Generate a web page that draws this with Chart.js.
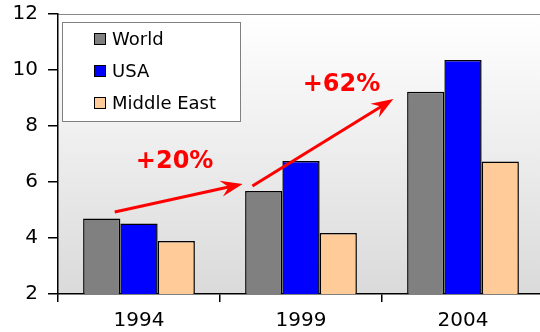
<!DOCTYPE html>
<html>
<head>
<meta charset="utf-8">
<script src="https://cdn.jsdelivr.net/npm/chart.js@4/dist/chart.umd.min.js"></script>
<style>
  html, body { margin: 0; padding: 0; background: #fff; overflow: hidden; }
  #wrap { width: 544px; height: 332px; }
</style>
</head>
<body>
<div id="wrap"><canvas id="chart"></canvas></div>
<script>
// Chart data
const years = ['1994', '1999', '2004'];
const world = [4.70, 5.68, 9.22];
const usa = [4.52, 6.75, 10.36];
const middleEast = [3.89, 4.18, 6.73];
const seriesNames = ['World', 'USA', 'Middle East'];
const seriesColors = ['#808080', '#0000ff', '#ffcc99'];
const yMin = 2, yMax = 12, yStep = 2;

// growth call-outs, in data space (x = category index, y = value)
const arrowFrom = [[-0.15, 4.93], [0.70, 5.86]];
const arrowTo = [[0.64, 5.93], [1.57, 8.96]];
const growthLabels = ['+20%', '+62%'];
const growthLabelAt = [[0.22, 6.71], [1.25, 9.48]];

const FONT = "'DejaVu Sans', Verdana, sans-serif";

function drawArrow(ctx, x1, y1, x2, y2) {
    const ang = Math.atan2(y2 - y1, x2 - x1);
    const ux = Math.cos(ang), uy = Math.sin(ang);
    const len = 22, half = 8;
    ctx.save();
    ctx.strokeStyle = '#ff0000';
    ctx.fillStyle = '#ff0000';
    ctx.lineWidth = 3;
    ctx.beginPath();
    ctx.moveTo(x1, y1);
    ctx.lineTo(x2 - ux * len * 0.6, y2 - uy * len * 0.6);
    ctx.stroke();
    ctx.beginPath();
    ctx.moveTo(x2, y2);
    ctx.lineTo(x2 - ux * len - uy * half, y2 - uy * len + ux * half);
    ctx.lineTo(x2 - ux * len * 0.65, y2 - uy * len * 0.65);
    ctx.lineTo(x2 - ux * len + uy * half, y2 - uy * len - ux * half);
    ctx.closePath();
    ctx.fill();
    ctx.restore();
}

const decor = {
    id: 'decor',
    beforeDraw(chart) {
        const { ctx, chartArea: a } = chart;
        const g = ctx.createLinearGradient(0, a.top, 0, a.bottom);
        g.addColorStop(0, '#ffffff');
        g.addColorStop(1, '#dadada');
        ctx.save();
        ctx.fillStyle = g;
        ctx.fillRect(a.left, a.top, a.right - a.left, a.bottom - a.top);
        ctx.strokeStyle = '#888888';
        ctx.lineWidth = 1;
        ctx.beginPath();
        ctx.moveTo(a.left, a.top + 0.5);
        ctx.lineTo(a.right, a.top + 0.5);
        ctx.stroke();
        ctx.restore();
    },
    afterDatasetsDraw(chart) {
        const { ctx } = chart;
        const xs = chart.scales.x, ys = chart.scales.y;

        // arrows + labels
        for (let i = 0; i < arrowFrom.length; i++) {
            drawArrow(ctx,
                xs.getPixelForValue(arrowFrom[i][0]), ys.getPixelForValue(arrowFrom[i][1]),
                xs.getPixelForValue(arrowTo[i][0]), ys.getPixelForValue(arrowTo[i][1]));
            ctx.save();
            ctx.fillStyle = '#ff0000';
            ctx.font = 'bold 24px ' + FONT;
            ctx.textAlign = 'center';
            ctx.textBaseline = 'middle';
            ctx.fillText(growthLabels[i],
                xs.getPixelForValue(growthLabelAt[i][0]), ys.getPixelForValue(growthLabelAt[i][1]));
            ctx.restore();
        }

        // legend box
        ctx.save();
        ctx.fillStyle = '#ffffff';
        ctx.fillRect(62, 22, 178, 99);
        ctx.strokeStyle = '#808080';
        ctx.lineWidth = 1;
        ctx.strokeRect(62.5, 22.5, 178, 99);
        ctx.font = '18px ' + FONT;
        ctx.textBaseline = 'middle';
        chart.data.datasets.forEach((ds, i) => {
            const cy = 39 + i * 32;
            ctx.fillStyle = ds.backgroundColor;
            ctx.fillRect(94, cy - 6, 12, 12);
            ctx.strokeStyle = '#000';
            ctx.strokeRect(94.5, cy - 5.5, 11, 11);
            ctx.fillStyle = '#000';
            ctx.fillText(ds.label, 112, cy + 1);
        });
        ctx.restore();
    }
};

const seriesValues = [world, usa, middleEast];

new Chart(document.getElementById('chart'), {
    type: 'bar',
    data: {
        labels: years,
        datasets: seriesValues.map((vals, i) => ({
            label: seriesNames[i],
            data: vals,
            backgroundColor: seriesColors[i],
            borderColor: '#000000',
            borderWidth: 1.5,
            borderSkipped: false,
            categoryPercentage: 0.69,
            barPercentage: 1.0
        }))
    },
    options: {
        responsive: true,
        maintainAspectRatio: false,
        animation: false,
        events: [],
        layout: { padding: { top: 14, left: 0, right: 0, bottom: 0 } },
        plugins: {
            legend: { display: false },
            tooltip: { enabled: false }
        },
        scales: {
            x: {
                offset: true,
                grid: {
                    offset: true,
                    drawOnChartArea: false,
                    color: '#000',
                    tickLength: 8,
                    lineWidth: 1.5
                },
                border: { color: '#000', width: 1.5 },
                ticks: { color: '#000', font: { family: FONT, size: 20 }, padding: 7 },
                afterFit(scale) {
                    scale.height = 38;
                    scale.paddingLeft = 0;
                    scale.paddingRight = 0;
                }
            },
            y: {
                min: yMin,
                max: yMax,
                ticks: { stepSize: yStep, color: '#000', font: { family: FONT, size: 20 }, padding: 10 },
                grid: {
                    drawOnChartArea: false,
                    color: '#000',
                    tickLength: 10,
                    lineWidth: 1.5
                },
                border: { color: '#000', width: 1.5 },
                afterFit(scale) {
                    scale.width = 58;
                    scale.paddingTop = 0;
                    scale.paddingBottom = 0;
                }
            }
        }
    },
    plugins: [decor]
});
</script>
</body>
</html>
